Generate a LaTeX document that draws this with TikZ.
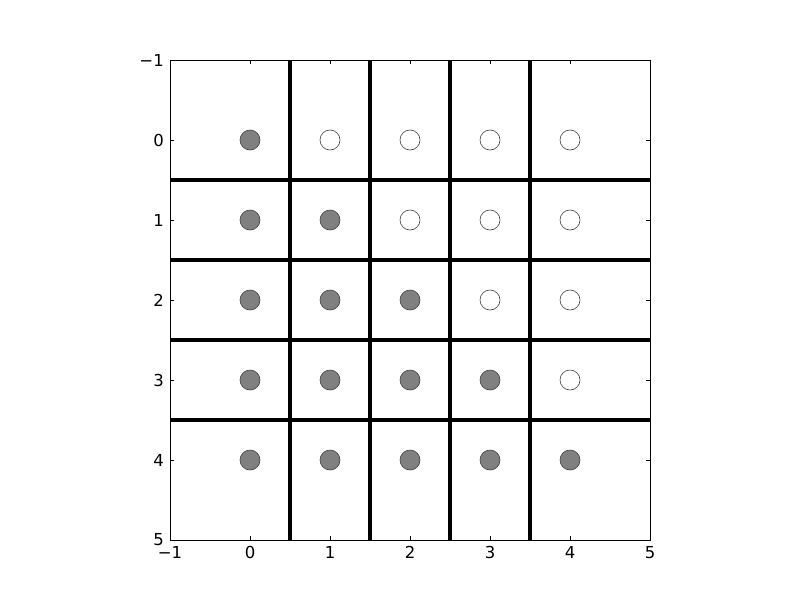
\documentclass[tikz,border=0pt]{standalone}
\usepackage{fontspec}
\setmainfont{DejaVu Sans}
\begin{document}
\begin{tikzpicture}[x=1pt,y=-1pt,
  dot/.style={circle,draw=black!75,line width=0.6pt,minimum size=20pt,inner sep=0pt},
  full/.style={dot,fill=black!50},
  empty/.style={dot,fill=white},
  sep/.style={line width=3.5pt},
  lab/.style={font=\fontsize{16.5}{18}\selectfont,inner sep=0pt}]
\useasboundingbox (0,0) rectangle (800,600);
% separators
\foreach \v in {290,370,450,530}{
  \draw[sep] (\v,60) -- (\v,540);
  \draw[sep] (170,\v-110) -- (650,\v-110);
}
% frame
\draw[line width=1pt] (170,60) rectangle (650,540);
% ticks
\foreach \i in {0,...,6}{
  \pgfmathsetmacro\p{170+80*\i}
  \draw[line width=0.6pt] (\p,60) -- (\p,64);
  \draw[line width=0.6pt] (\p,540) -- (\p,536);
  \draw[line width=0.6pt] (170,\p-110) -- (174,\p-110);
  \draw[line width=0.6pt] (650,\p-110) -- (646,\p-110);
}
% labels
\foreach \t [count=\i from 0] in {−1,0,1,2,3,4,5}{
  \node[lab,anchor=north] (xl\i) at (170+80*\i,546) {\t};
  \node[lab,anchor=east] (yl\i) at (164,60+80*\i) {\t};
}
% dots
\foreach \r in {0,...,4}{
  \foreach \c in {0,...,4}{
    \ifnum\c>\r
      \node[empty] (c\r\c) at (250+80*\c,140+80*\r) {};
    \else
      \node[full] (c\r\c) at (250+80*\c,140+80*\r) {};
    \fi
  }
}
\end{tikzpicture}
\end{document}
